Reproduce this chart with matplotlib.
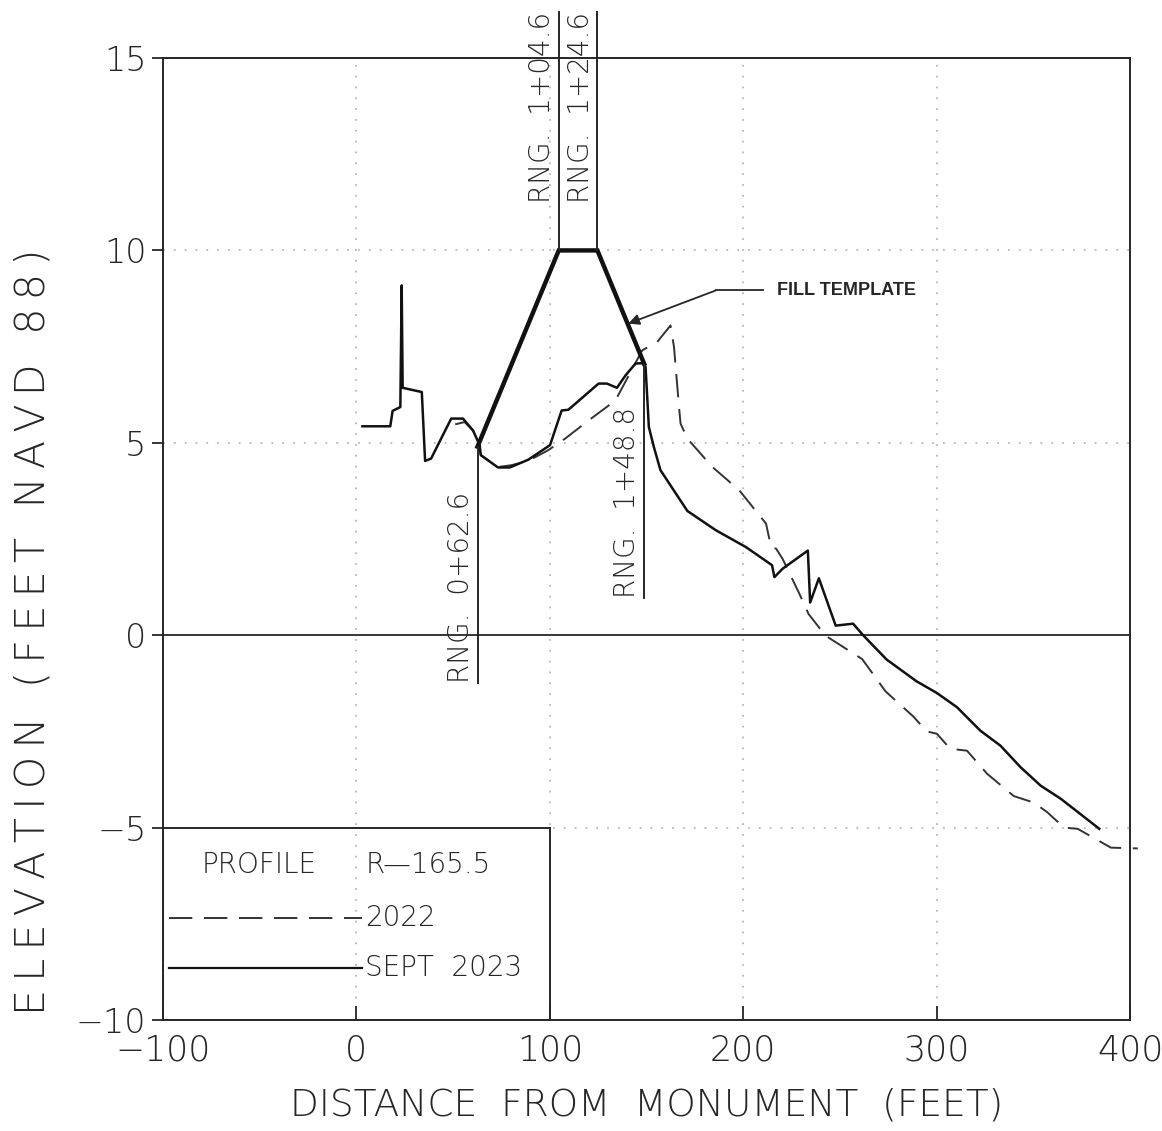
import matplotlib
matplotlib.use("Agg")
import matplotlib.pyplot as plt
from matplotlib.patches import Rectangle

plt.rcParams['font.family'] = ['DejaVu Sans']
plt.rcParams['font.weight'] = 'light'
plt.rcParams['axes.labelweight'] = 'light'

# ---- data ----
sept2023_x = [3.1, 17.5, 18.7, 22.7, 23.4, 23.9, 33.8, 35.5, 38.6, 49.0, 55.1, 60.3, 63.7,
              64.3, 73.2, 79.3, 88.8, 100.1, 106.1, 109.6, 125.2, 129.5, 134.7, 139.1,
              144.3, 147.7, 149.5, 151.2, 153.8, 157.2, 171.1, 185.8, 201.4, 214.9,
              216.1, 220.4, 233.4, 234.6, 239.1, 247.8, 256.8, 262.0, 274.1, 289.7,
              300.1, 310.5, 322.6, 333.0, 343.4, 353.8, 364.2, 384.1]
sept2023_y = [5.43, 5.43, 5.83, 5.93, 9.09, 6.43, 6.32, 4.53, 4.59, 5.63, 5.63, 5.32, 4.94,
              4.68, 4.36, 4.36, 4.56, 4.94, 5.84, 5.86, 6.54, 6.54, 6.43, 6.75,
              7.06, 7.07, 6.97, 5.41, 4.89, 4.29, 3.23, 2.73, 2.29, 1.82,
              1.51, 1.73, 2.20, 0.85, 1.48, 0.25, 0.30, 0.00, -0.63, -1.20,
              -1.50, -1.87, -2.48, -2.87, -3.43, -3.91, -4.25, -5.03]

y2022_x = [51.1, 55.9, 60.3, 63.2, 64.3, 73.2, 80.2, 88.8, 99.2, 107.9, 120.0, 133.9,
           147.7, 155.5, 162.4, 164.2, 166.8, 167.6, 171.1, 184.1, 197.9, 211.8, 214.4,
           217.0, 220.4, 229.1, 233.8, 242.5, 261.5, 273.6, 287.9, 294.9, 300.1, 307.0,
           315.7, 326.1, 339.9, 350.3, 357.2, 365.9, 372.9, 390.1, 404.0]
y2022_y = [5.48, 5.54, 5.32, 5.02, 4.68, 4.37, 4.42, 4.53, 4.81, 5.11, 5.58, 6.10,
           7.40, 7.62, 8.05, 7.49, 5.93, 5.50, 5.11, 4.37, 3.77, 2.90, 2.29,
           2.25, 1.98, 1.07, 0.55, -0.01, -0.62, -1.46, -2.11, -2.50, -2.56, -2.95,
           -3.00, -3.60, -4.18, -4.35, -4.60, -5.00, -5.03, -5.52, -5.54]

template_x = [62.6, 104.6, 124.6, 148.8]
template_y = [4.90, 10.0, 10.0, 7.05]

rng_labels = ["RNG.  0+62.6", "RNG.  1+04.6", "RNG.  1+24.6", "RNG.  1+48.8"]
rng_x = [62.6, 104.6, 124.6, 148.8]

xticks = [-100, 0, 100, 200, 300, 400]
yticks = [-10, -5, 0, 5, 10, 15]


def spaced(s):
    return "\u2009".join(s)


# ---- figure ----
fig = plt.figure(figsize=(11.62, 11.31), dpi=100)
ax = fig.add_axes([0.1403, 0.0981, 0.8322, 0.8506])
ax.set_xlim(-100, 400)
ax.set_ylim(-10, 15)

INK = '#262626'

# grid
for gx in [0, 100, 200, 300]:
    ax.plot([gx, gx], [-10, 15], color='#b8b8b8', lw=1.3, ls=(0, (1, 5)), zorder=1)
for gy in [-5, 5, 10]:
    ax.plot([-100, 400], [gy, gy], color='#b8b8b8', lw=1.3, ls=(0, (1, 5)), zorder=1)
ax.axhline(0, color=INK, lw=1.3, zorder=2)

# profiles
ax.plot(y2022_x, y2022_y, color='#333333', lw=1.4, ls=(0, (12, 6)), zorder=3, clip_on=False)
ax.plot(sept2023_x, sept2023_y, color='#111111', lw=1.8, zorder=4)
ax.plot(template_x, template_y, color='#111111', lw=3.2, zorder=5, solid_joinstyle='miter')

# range lines and labels
rng_lo = [-1.25, 10.0, 10.0, 0.96]
rng_hi = [4.90, 16.2, 16.2, 7.05]
for lab, rx, lo, hi in zip(rng_labels, rng_x, rng_lo, rng_hi):
    ax.plot([rx, rx], [lo, hi], color=INK, lw=1.4, zorder=5, clip_on=False)
    if hi > 15:
        ax.text(rx - 1.5, hi, lab, rotation=90, ha='right', va='top', fontsize=20,
                color=INK, clip_on=False)
    else:
        ax.text(rx - 1.5, lo, lab, rotation=90, ha='right', va='bottom', fontsize=20,
                color=INK, clip_on=False)

# fill template annotation
ax.annotate("", xy=(140.6, 8.1), xytext=(185.8, 8.96),
            arrowprops=dict(arrowstyle='-|>', color=INK, lw=1.3,
                            mutation_scale=16, shrinkA=0, shrinkB=0))
ax.plot([185.8, 210], [8.96, 8.96], color=INK, lw=1.3)
ax.text(217.7, 8.96, "FILL TEMPLATE", fontsize=13, fontweight='bold',
        family='Liberation Sans', va='center', ha='left', color=INK)

# legend box
ax.add_patch(Rectangle((-100, -10), 200, 5, fill=False, ec=INK, lw=1.4, zorder=6))
ax.text(-80, -5.97, "PROFILE", fontsize=20, va='center', ha='left', color=INK)
ax.text(4.5, -5.97, "R\u2014165.5", fontsize=20, va='center', ha='left', color=INK)
ax.plot([-97, 3], [-7.35, -7.35], color='#333333', lw=1.4, ls=(0, (12, 6)))
ax.text(4.5, -7.35, "2022", fontsize=20, va='center', ha='left', color=INK)
ax.plot([-97, 3], [-8.65, -8.65], color='#111111', lw=1.6)
ax.text(4.5, -8.65, "SEPT  2023", fontsize=20, va='center', ha='left', color=INK)

# axes styling
for s in ax.spines.values():
    s.set_linewidth(1.4)
    s.set_color(INK)
ax.set_xticks(xticks)
ax.set_yticks(yticks)
ax.set_xticklabels(["\u2212100", "0", "100", "200", "300", "400"])
ax.set_yticklabels(["\u221210", "\u22125", "0", "5", "10", "15"])
ax.tick_params(axis='x', direction='in', length=10, width=1.3, labelsize=25, pad=10,
               colors=INK)
ax.tick_params(axis='y', direction='out', length=8, width=1.3, labelsize=24, pad=4,
               colors=INK)
ax.set_xlabel("DISTANCE  FROM  MONUMENT  (FEET)", fontsize=27, fontweight='light',
              labelpad=14, color=INK)
ax.set_ylabel(spaced("ELEVATION (FEET NAVD 88)"), fontsize=29.7, fontweight='light',
              color=INK)
ax.yaxis.set_label_coords(-0.1148, 0.404)

fig.savefig("out.png", dpi=100)
